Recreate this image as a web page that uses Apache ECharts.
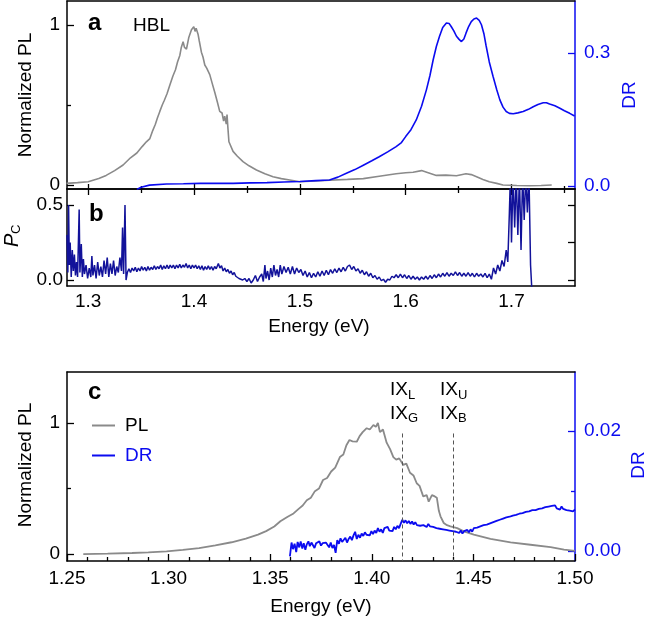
<!DOCTYPE html>
<html><head><meta charset="utf-8">
<script src="https://cdn.jsdelivr.net/npm/echarts@6/dist/echarts.min.js"></script>
<style>html,body{margin:0;padding:0;background:#fff}#c{width:647px;height:618px}</style>
</head><body><div id="c"></div>
<script>
// ---------- data (energy eV, value) ----------
const plA = [[1.2795,0.01],[1.29,0.015],[1.30,0.02],[1.31,0.04],[1.317,0.06],[1.325,0.09],[1.333,0.125],[1.340,0.17],[1.346,0.20],[1.351,0.24],[1.355,0.27],[1.3583,0.29],[1.361,0.34],[1.3635,0.38],[1.3655,0.42],[1.3677,0.46],[1.370,0.50],[1.372,0.53],[1.3745,0.57],[1.3772,0.625],[1.380,0.68],[1.3825,0.72],[1.3845,0.77],[1.3866,0.81],[1.388,0.86],[1.3897,0.895],[1.391,0.86],[1.3929,0.85],[1.395,0.92],[1.3976,0.97],[1.3998,0.99],[1.401,0.96],[1.402,0.98],[1.4039,0.94],[1.405,0.90],[1.407,0.83],[1.4085,0.80],[1.4102,0.75],[1.412,0.73],[1.4149,0.69],[1.417,0.64],[1.4196,0.58],[1.422,0.52],[1.4243,0.46],[1.4265,0.45],[1.428,0.40],[1.429,0.43],[1.4305,0.38],[1.4312,0.44],[1.432,0.36],[1.433,0.27],[1.4369,0.21],[1.441,0.18],[1.4463,0.146],[1.452,0.12],[1.459,0.094],[1.467,0.07],[1.4747,0.052],[1.4825,0.04],[1.4904,0.031],[1.5,0.02],[1.515,0.025],[1.528,0.03],[1.545,0.035],[1.56,0.04],[1.575,0.055],[1.591,0.07],[1.60,0.077],[1.607,0.08],[1.615,0.09],[1.622,0.075],[1.629,0.06],[1.638,0.062],[1.648,0.058],[1.657,0.07],[1.662,0.065],[1.667,0.052],[1.673,0.035],[1.679,0.02],[1.686,0.01],[1.692,0.0],[1.705,-0.003],[1.717,-0.005],[1.728,-0.003],[1.738,0.0]];

const drA = [[1.346,-0.008],[1.350,-0.003],[1.358,0.002],[1.374,0.0045],[1.39,0.005],[1.406,0.006],[1.42,0.006],[1.437,0.006],[1.453,0.007],[1.469,0.0075],[1.485,0.009],[1.50,0.01],[1.515,0.012],[1.528,0.0136],[1.536,0.02],[1.544,0.0286],[1.552,0.037],[1.56,0.047],[1.568,0.057],[1.575,0.066],[1.583,0.077],[1.591,0.089],[1.596,0.098],[1.60,0.1115],[1.605,0.127],[1.61,0.149],[1.615,0.18],[1.6196,0.217],[1.623,0.25],[1.626,0.285],[1.629,0.315],[1.632,0.338],[1.635,0.358],[1.6385,0.368],[1.641,0.367],[1.643,0.36],[1.6455,0.35],[1.648,0.338],[1.6505,0.331],[1.6527,0.326],[1.655,0.332],[1.657,0.345],[1.6595,0.36],[1.662,0.371],[1.6645,0.377],[1.667,0.379],[1.6695,0.374],[1.6716,0.364],[1.674,0.343],[1.676,0.3166],[1.679,0.28],[1.6826,0.247],[1.686,0.218],[1.689,0.1944],[1.692,0.178],[1.695,0.168],[1.698,0.164],[1.7016,0.163],[1.706,0.165],[1.711,0.168],[1.716,0.173],[1.7205,0.179],[1.725,0.184],[1.73,0.188],[1.733,0.188],[1.736,0.185],[1.741,0.181],[1.7457,0.1756],[1.75,0.17],[1.755,0.164],[1.7596,0.158]];

const pcB = [[1.2800,0.30],[1.2808,0.05],[1.2815,0.50],[1.2822,0.10],[1.2830,0.25],[1.2840,0.02],[1.2850,0.20],[1.2860,0.06],[1.2870,0.17],[1.2880,0.03],[1.2890,0.12],[1.2900,0.02],[1.2915,0.47],[1.2922,0.05],[1.2935,0.24],[1.2945,0.02],[1.2955,0.14],[1.2965,0.04],[1.2980,0.10],[1.2995,0.01],[1.3010,0.08],[1.3025,0.02],[1.3035,0.16],[1.3045,0.03],[1.3060,0.10],[1.3075,0.01],[1.3090,0.12],[1.3105,0.03],[1.3120,0.09],[1.3135,0.02],[1.3150,0.13],[1.3165,0.04],[1.3180,0.15],[1.3195,0.02],[1.3210,0.11],[1.3225,0.04],[1.3240,0.13],[1.3255,0.03],[1.3270,0.09],[1.3285,0.05],[1.3300,0.15],[1.3315,0.06],[1.3325,0.35],[1.3335,0.04],[1.3348,0.50],[1.3358,0.00],
[1.3370,0.05],[1.3385,0.075],[1.3400,0.05],[1.3415,0.08],[1.3430,0.06],[1.3445,0.085],[1.3460,0.055],[1.3475,0.08],[1.3490,0.06],[1.3505,0.09],[1.3520,0.065],[1.3535,0.085],[1.3550,0.06],[1.3565,0.09],[1.3580,0.065],[1.3595,0.085],[1.3610,0.07],[1.3625,0.095],[1.3640,0.07],[1.3655,0.09],[1.3670,0.075],[1.3685,0.10],[1.3700,0.07],[1.3715,0.095],[1.3730,0.075],[1.3745,0.10],[1.3760,0.075],[1.3775,0.10],[1.3790,0.08],[1.3805,0.10],[1.3820,0.075],[1.3835,0.10],[1.3850,0.08],[1.3865,0.105],[1.3880,0.08],[1.3895,0.10],[1.3910,0.085],[1.3925,0.11],[1.3940,0.08],[1.3955,0.10],[1.3970,0.075],[1.3985,0.10],[1.4000,0.08],[1.4015,0.10],[1.4030,0.075],[1.4045,0.095],[1.4060,0.07],[1.4075,0.095],[1.4090,0.065],[1.4105,0.09],[1.4120,0.07],[1.4135,0.095],[1.4150,0.07],[1.4165,0.09],[1.4180,0.065],[1.4195,0.09],[1.4210,0.075],[1.4230,0.11],[1.4245,0.08],[1.4260,0.095],[1.4275,0.06],[1.4290,0.08],[1.4305,0.055],[1.4320,0.07],[1.4335,0.045],[1.4350,0.06],[1.4365,0.035],[1.4380,0.05],[1.4395,0.025],[1.4410,0.035],[1.4425,0.01],[1.4440,0.02],[1.4460,0.0],[1.4480,0.01],[1.4500,-0.01],
[1.4520,0.01],[1.4540,-0.02],[1.4560,0.00],[1.4580,0.03],[1.4600,-0.01],[1.4620,0.02],[1.4640,0.04],[1.4655,-0.01],[1.4670,0.10],[1.4680,0.01],[1.4695,0.06],[1.4710,0.0],[1.4725,0.08],[1.4740,0.02],[1.4755,0.10],[1.4770,0.03],[1.4785,0.07],[1.4800,0.02],[1.4815,0.10],[1.4830,0.04],[1.4850,0.09],[1.4870,0.05],[1.4890,0.085],[1.4910,0.04],[1.4930,0.09],[1.4950,0.04],[1.4970,0.08],[1.4990,0.05],[1.5010,0.07],[1.5030,0.03],[1.5050,0.06],[1.5070,0.02],[1.5090,0.05],[1.5110,0.015],[1.5130,0.045],[1.5150,0.02],[1.5170,0.055],[1.5190,0.025],[1.5210,0.06],[1.5230,0.03],[1.5250,0.065],[1.5270,0.035],[1.5290,0.07],
[1.5310,0.045],[1.5330,0.075],[1.5350,0.05],[1.5370,0.08],[1.5390,0.055],[1.5410,0.085],[1.5430,0.06],[1.5450,0.09],[1.5470,0.10],[1.5490,0.07],[1.5510,0.09],[1.5530,0.06],[1.5550,0.075],[1.5570,0.045],[1.5590,0.065],[1.5610,0.035],[1.5630,0.055],[1.5650,0.025],[1.5670,0.045],[1.5690,0.015],[1.5710,0.03],[1.5730,0.005],[1.5750,0.02],[1.5770,-0.005],[1.5790,0.005],[1.5810,-0.015],[1.5830,0.005],[1.5850,0.0],[1.5870,0.025],[1.5890,0.015],[1.5910,0.035],[1.5930,0.015],[1.5950,0.04],[1.5970,0.015],[1.5990,0.035],[1.6010,0.01],[1.6030,0.03],[1.6050,0.005],[1.6070,0.025],[1.6090,0.005],[1.6110,0.02],[1.6130,0.0],[1.6150,0.02],[1.6170,0.005],[1.6190,0.025],[1.6210,0.005],[1.6230,0.03],[1.6250,0.01],[1.6270,0.035],[1.6290,0.015],[1.6310,0.04],[1.6330,0.02],[1.6350,0.045],[1.6370,0.025],[1.6390,0.05],[1.6410,0.025],[1.6430,0.045],[1.6450,0.03],[1.6470,0.055],[1.6490,0.03],[1.6510,0.05],[1.6530,0.025],[1.6550,0.045],[1.6570,0.025],[1.6590,0.05],[1.6610,0.025],[1.6630,0.045],[1.6650,0.02],[1.6670,0.045],[1.6690,0.025],[1.6710,0.04],[1.6730,0.02],[1.6750,0.045],[1.6770,0.015],[1.6790,0.04],[1.6810,0.005],[1.6830,0.08],[1.6850,0.04],[1.6870,0.10],[1.6890,0.06],[1.6910,0.13],[1.6930,0.09],[1.6950,0.20],[1.6965,0.12],[1.6980,0.45],[1.6990,0.70],[1.7000,0.25],[1.7015,0.70],[1.7030,0.35],[1.7045,0.70],[1.7060,0.30],[1.7075,0.70],[1.7090,0.20],[1.7105,0.70],[1.7120,0.40],[1.7135,0.70],[1.7150,0.45],[1.7165,0.70],[1.7180,0.10],[1.7195,-0.10]];

const plC = [[1.258,0.0],[1.27,0.003],[1.282,0.008],[1.29,0.013],[1.299,0.02],[1.307,0.032],[1.315,0.046],[1.323,0.066],[1.331,0.09],[1.338,0.118],[1.344,0.148],[1.348,0.175],[1.352,0.21],[1.355,0.25],[1.3586,0.285],[1.3615,0.31],[1.364,0.345],[1.366,0.37],[1.368,0.41],[1.370,0.43],[1.372,0.48],[1.374,0.50],[1.376,0.565],[1.378,0.58],[1.380,0.63],[1.382,0.66],[1.3843,0.74],[1.386,0.76],[1.3875,0.83],[1.389,0.87],[1.3905,0.86],[1.3926,0.857],[1.394,0.90],[1.3955,0.93],[1.3975,0.96],[1.399,0.95],[1.4008,0.985],[1.402,0.97],[1.403,1.0],[1.404,0.93],[1.4055,0.95],[1.4073,0.85],[1.409,0.80],[1.4106,0.74],[1.412,0.72],[1.4135,0.73],[1.4155,0.68],[1.417,0.69],[1.4188,0.62],[1.4205,0.60],[1.4221,0.54],[1.4235,0.52],[1.4253,0.44],[1.427,0.45],[1.428,0.40],[1.4296,0.45],[1.431,0.44],[1.432,0.43],[1.433,0.33],[1.4338,0.288],[1.4354,0.237],[1.437,0.22],[1.4387,0.211],[1.442,0.198],[1.4453,0.173],[1.4502,0.148],[1.4584,0.115],[1.4683,0.089],[1.4781,0.071],[1.488,0.053],[1.4946,0.033],[1.5,0.025]];

const drC = [[1.3597,-0.0009],[1.3605,0.0014],[1.3612,0.0003],[1.362,0.0012],[1.3628,-0.0002],[1.3635,0.0015],[1.3643,0.0006],[1.365,0.0016],[1.3658,0.0004],[1.3665,0.0013],[1.3673,0.0002],[1.368,0.0011],[1.3688,0.0016],[1.3695,0.0008],[1.3703,0.0014],[1.371,0.0012],[1.3718,0.0005],[1.3726,0.0013],[1.3734,0.0010],[1.3742,0.0016],[1.375,0.0009],[1.3758,0.0013],[1.3766,0.0010],[1.3774,0.0014],[1.3782,0.0012],[1.379,0.0006],[1.3798,0.0014],[1.3806,0.0005],[1.3814,0.0010],[1.3822,-0.0003],[1.383,0.0018],[1.3838,0.0012],[1.3846,0.0021],[1.3854,0.0015],[1.3862,0.0018],[1.387,0.0022],[1.3878,0.0014],[1.3886,0.0020],[1.3894,0.0024],[1.3902,0.0018],[1.391,0.0026],[1.3918,0.0032],[1.3926,0.0020],[1.3934,0.0027],[1.3942,0.0022],[1.395,0.0029],[1.3958,0.0025],[1.3966,0.0031],[1.3974,0.0027],[1.3982,0.0030],[1.399,0.0026],[1.3998,0.0033],[1.4006,0.0028],[1.4014,0.0034],[1.4022,0.0030],[1.403,0.0038],[1.4038,0.0032],[1.4046,0.0036],[1.4054,0.0030],[1.4062,0.0038],[1.407,0.0035],[1.4078,0.0040],[1.4086,0.0034],[1.4094,0.0037],[1.4102,0.0033],[1.411,0.0040],[1.4118,0.0036],[1.4126,0.0042],[1.4134,0.0038],[1.4142,0.0045],[1.415,0.0052],[1.4158,0.0047],[1.4166,0.0051],[1.4174,0.0046],[1.4182,0.0050],[1.419,0.0045],[1.4198,0.0049],[1.4206,0.0044],[1.4214,0.0048],[1.4222,0.0043],[1.423,0.0046],[1.4238,0.0042],[1.4246,0.0045],[1.4254,0.0043],[1.4262,0.0044],[1.427,0.0040],[1.4278,0.0045],[1.4286,0.0041],[1.4294,0.0043],[1.4302,0.0040],[1.431,0.0042],[1.4318,0.0038],[1.4326,0.0041],[1.4334,0.0037],[1.4342,0.0040],[1.435,0.0036],[1.4358,0.0039],[1.4366,0.0035],[1.4374,0.0038],[1.4382,0.0034],[1.439,0.0037],[1.4398,0.0033],[1.4406,0.0036],[1.4414,0.0032],[1.4422,0.0035],[1.443,0.0030],[1.4438,0.0034],[1.4446,0.0029],[1.4454,0.0033],[1.4462,0.0030],[1.447,0.0035],[1.4478,0.0031],[1.4486,0.0036],[1.4494,0.0032],[1.4502,0.0038],[1.451,0.0035],[1.4518,0.0039],[1.4526,0.0036],[1.4534,0.0041],[1.4542,0.0038],[1.455,0.0043],[1.4558,0.0040],[1.4566,0.0044],[1.4574,0.0041],[1.4582,0.0046],[1.459,0.0043],[1.4598,0.0048],[1.4606,0.0045],[1.4614,0.0050],[1.4622,0.0047],[1.463,0.0052],[1.4638,0.0049],[1.4646,0.0054],[1.4654,0.0051],[1.4662,0.0056],[1.467,0.0053],[1.4678,0.0057],[1.4686,0.0055],[1.4694,0.0059],[1.4702,0.0056],[1.471,0.0060],[1.4718,0.0058],[1.4726,0.0062],[1.4734,0.0059],[1.4742,0.0063],[1.475,0.0061],[1.4758,0.0065],[1.4766,0.0062],[1.4774,0.0066],[1.4782,0.0064],[1.479,0.0068],[1.4798,0.0065],[1.4806,0.0068],[1.4814,0.0066],[1.4822,0.0070],[1.483,0.0067],[1.4838,0.0071],[1.4846,0.0069],[1.4854,0.0073],[1.4862,0.0070],[1.487,0.0074],[1.4878,0.0071],[1.4886,0.0075],[1.4894,0.0072],[1.4902,0.0076],[1.491,0.0071],[1.4918,0.0073],[1.4926,0.0069],[1.4934,0.0074],[1.4942,0.0070],[1.495,0.0073],[1.4958,0.0068],[1.4966,0.0071],[1.4974,0.0067],[1.4982,0.0070],[1.499,0.0066],[1.5,0.0069]];

const ixEnergies = [1.415, 1.44];
const ixTop = 0.92;

// tick values
const ticksAB = [1.3, 1.4, 1.5, 1.6, 1.7];
const minorAB = [1.35, 1.45, 1.55, 1.65, 1.75];
const ticksC = [1.25, 1.30, 1.35, 1.40, 1.45, 1.50];
const minorC = [1.26,1.27,1.28,1.29,1.31,1.32,1.33,1.34,1.36,1.37,1.38,1.39,1.41,1.42,1.43,1.44,1.46,1.47,1.48,1.49];
const plTicks = [0, 1];
const plMinor = [0.5];
const drATicks = [0, 0.3];
const pcTicks = [0, 0.5];
const pcRightTicks = [0, 0.25, 0.5];
const drCTicks = [0, 0.02];
const drCMinor = [0.01];

// ---------- style ----------
const FONT = '"Liberation Sans", Arial, Helvetica, sans-serif';
const BLACK = '#000000', BLUE = '#0b0bf0', GRAY = '#8a8a8a', NAVY = '#12129a';

function ax(o) {
  const col = o.color || BLACK;
  return {
    type: 'value', gridIndex: o.grid, position: o.pos, min: o.min, max: o.max, offset: 0,
    axisLine: { show: !!o.line, onZero: false, lineStyle: { color: col, width: 1.5 } },
    axisTick: o.ticks ? { show: true, inside: true, length: o.len || 7, customValues: o.ticks, lineStyle: { color: col, width: 1.3 } } : { show: false },
    axisLabel: o.labels ? { show: true, customValues: o.labels, formatter: o.fmt, margin: o.margin, color: col, fontSize: 19, fontFamily: FONT } : { show: false },
    splitLine: { show: false }, minorTick: { show: false }, minorSplitLine: { show: false }
  };
}
const f0 = v => String(Math.round(v));
const f1 = v => v.toFixed(1);
const f2 = v => v.toFixed(2);

const xAxes = [
  ax({ grid: 0, pos: 'bottom', min: 1.28, max: 1.76, line: true, ticks: ticksAB, len: 5 }),
  ax({ grid: 0, pos: 'bottom', min: 1.28, max: 1.76, ticks: minorAB, len: 3 }),
  ax({ grid: 0, pos: 'top', min: 1.28, max: 1.76, line: true }),
  ax({ grid: 1, pos: 'bottom', min: 1.28, max: 1.76, line: true, labels: ticksAB, fmt: f1, margin: 6 }),
  ax({ grid: 1, pos: 'top', min: 1.28, max: 1.76, line: true, ticks: ticksAB, len: 6 }),
  ax({ grid: 1, pos: 'top', min: 1.28, max: 1.76, ticks: minorAB, len: 4 }),
  ax({ grid: 2, pos: 'bottom', min: 1.25, max: 1.5, line: true, ticks: ticksC, labels: ticksC, fmt: f2, margin: 8 }),
  ax({ grid: 2, pos: 'bottom', min: 1.25, max: 1.5, ticks: minorC, len: 4 }),
  ax({ grid: 2, pos: 'top', min: 1.25, max: 1.5, line: true })
];
const yAxes = [
  ax({ grid: 0, pos: 'left', min: -0.025, max: 1.15, line: true, ticks: plTicks, labels: plTicks, fmt: f0, margin: 7 }),
  ax({ grid: 0, pos: 'left', min: -0.025, max: 1.15, ticks: plMinor, len: 4 }),
  ax({ grid: 0, pos: 'right', min: -0.0068, max: 0.4176, line: true, color: BLUE, ticks: drATicks, labels: drATicks, fmt: f1, margin: 9 }),
  ax({ grid: 1, pos: 'left', min: -0.04, max: 0.607, line: true, ticks: pcTicks, labels: pcTicks, fmt: f1, margin: 4 }),
  ax({ grid: 1, pos: 'right', min: -0.04, max: 0.607, line: true, ticks: pcRightTicks }),
  ax({ grid: 2, pos: 'left', min: -0.053, max: 1.389, line: true, ticks: plTicks, labels: plTicks, fmt: f0, margin: 7 }),
  ax({ grid: 2, pos: 'left', min: -0.053, max: 1.389, ticks: plMinor, len: 4 }),
  ax({ grid: 2, pos: 'right', min: -0.00167, max: 0.0298, line: true, color: BLUE, ticks: drCTicks, labels: drCTicks, fmt: f2, margin: 9 }),
  ax({ grid: 2, pos: 'right', min: -0.00167, max: 0.0298, color: BLUE, ticks: drCMinor, len: 4 })
];

function lineSeries(name, data, xi, yi, color, width, z) {
  return { type: 'line', name: name, data: data, xAxisIndex: xi, yAxisIndex: yi, symbol: 'none', showSymbol: false,
    lineStyle: { color: color, width: width }, itemStyle: { color: color }, clip: true, animation: false, silent: true, z: z };
}
const plCSeries = lineSeries('PL', plC, 6, 5, GRAY, 1.8, 2);
plCSeries.markLine = {
  symbol: 'none', silent: true, animation: false, label: { show: false },
  lineStyle: { type: [4, 3], color: '#555', width: 1 },
  data: ixEnergies.map(e => [{ coord: [e, ixTop] }, { coord: [e, -0.053] }])
};

function txt(x, y, text, o) {
  o = o || {};
  return { type: 'text', x: x, y: y, rotation: o.rot || 0, silent: true,
    style: { text: text, fill: o.color || BLACK, font: (o.style || '') + ' ' + (o.weight || 'normal') + ' ' + (o.size || 19) + 'px ' + FONT,
      align: o.align || 'left', verticalAlign: 'middle' } };
}
const R = Math.PI / 2;

const option = {
  animation: false,
  grid: [
    { left: 67, top: 1, width: 508, height: 188, outerBoundsMode: 'none', containLabel: false },
    { left: 67, top: 189, width: 508, height: 97, outerBoundsMode: 'none', containLabel: false },
    { left: 67, top: 372, width: 508, height: 189, outerBoundsMode: 'none', containLabel: false }
  ],
  xAxis: xAxes,
  yAxis: yAxes,
  legend: {
    left: 92, top: 416, orient: 'vertical', padding: 0, itemWidth: 23, itemHeight: 2, itemGap: 11, selectedMode: false,
    textStyle: { fontSize: 19, fontFamily: FONT, color: BLACK, padding: [0, 0, 0, 5] },
    data: [
      { name: 'PL', icon: 'rect', itemStyle: { color: GRAY }, textStyle: { color: BLACK } },
      { name: 'DR', icon: 'rect', itemStyle: { color: BLUE }, textStyle: { color: BLUE } }
    ]
  },
  series: [
    lineSeries('PL (a)', plA, 0, 0, GRAY, 1.6, 2),
    lineSeries('DR (a)', drA, 0, 2, BLUE, 1.6, 3),
    lineSeries('Pc', pcB, 3, 3, NAVY, 1.5, 2),
    plCSeries,
    lineSeries('DR', drC, 6, 7, BLUE, 1.8, 3)
  ],
  graphic: { elements: [
    txt(88, 23.6, 'a', { weight: 'bold', size: 24 }),
    txt(133, 25.4, 'HBL'),
    txt(89, 214.6, 'b', { weight: 'bold', size: 24 }),
    txt(88, 392.6, 'c', { weight: 'bold', size: 24 }),
    txt(25.5, 95, 'Normalized PL', { rot: R, align: 'center' }),
    txt(630, 95, 'DR', { rot: R, align: 'center', color: BLUE }),
    txt(25.5, 465, 'Normalized PL', { rot: R, align: 'center' }),
    txt(638.5, 465, 'DR', { rot: R, align: 'center', color: BLUE }),
    txt(319, 326.4, 'Energy (eV)', { align: 'center' }),
    txt(321, 606.7, 'Energy (eV)', { align: 'center' }),
    { type: 'group', x: 12, y: 247, rotation: R, silent: true, children: [
      txt(0, 0, 'P', { style: 'italic', size: 20 }),
      txt(13, 4, 'C', { size: 13 })
    ] },
    txt(390, 390, 'IX'), txt(408, 395, 'L', { size: 13 }),
    txt(390, 413.4, 'IX'), txt(408, 418.5, 'G', { size: 13 }),
    txt(440, 390, 'IX'), txt(458, 395, 'U', { size: 13 }),
    txt(440, 413.4, 'IX'), txt(458, 418.5, 'B', { size: 13 })
  ] }
};

const chart = echarts.init(document.getElementById('c'), null, { renderer: 'canvas' });
chart.setOption(option);
</script>
</body></html>
